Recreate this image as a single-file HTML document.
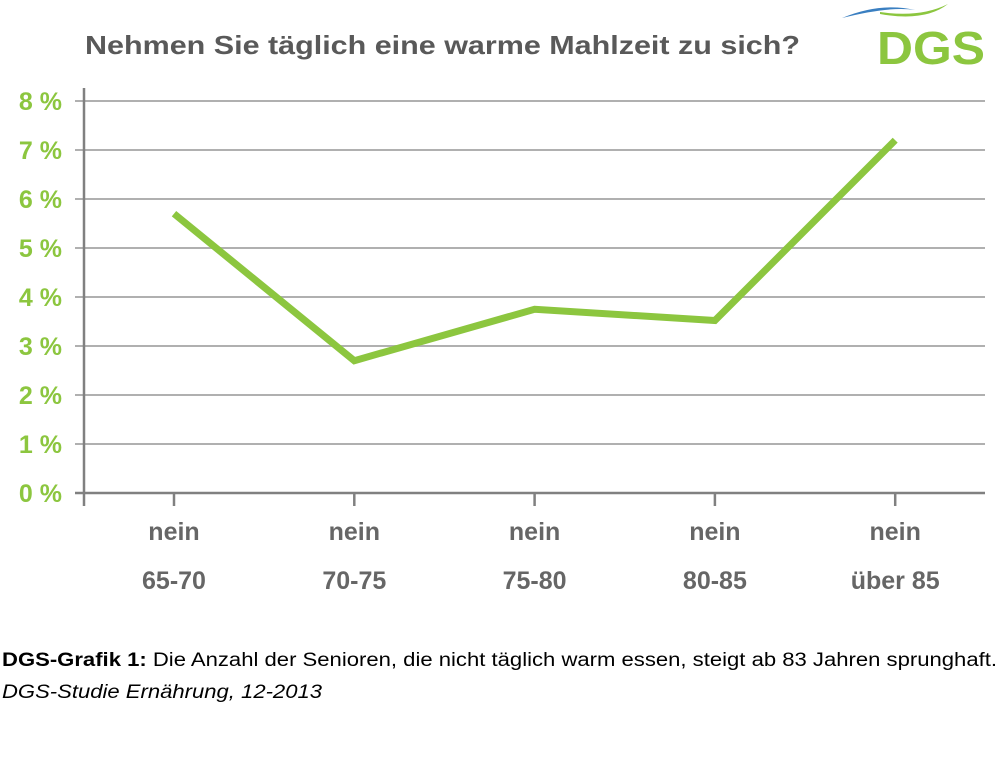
<!DOCTYPE html>
<html><head><meta charset="utf-8"><style>
body{margin:0;background:#fff;width:1000px;height:776px;overflow:hidden}
svg{display:block;font-family:"Liberation Sans",sans-serif}
</style></head><body>
<svg width="1000" height="776">
<text x="85" y="54" font-size="26" font-weight="bold" fill="#595959" textLength="715" lengthAdjust="spacingAndGlyphs">Nehmen Sie täglich eine warme Mahlzeit zu sich?</text>
<g>
<path d="M842 18 Q880 2 915 10 Q890 6 842 18Z" fill="#3a7fc1"/>
<path d="M880 12 Q920 18 948 4 Q925 22 880 14Z" fill="#8cc63f"/>
<text x="877" y="64" font-size="46" font-weight="bold" fill="#8cc63f" textLength="108" lengthAdjust="spacingAndGlyphs">DGS</text>
</g>
<g id="grid"></g><g id="yl"></g><g id="xl"></g>
<line x1="84" y1="88" x2="84" y2="506" stroke="#808080" stroke-width="2.5"/>
<polyline id="ln" fill="none" stroke="#8cc63f" stroke-width="7" stroke-linejoin="miter"/>
<text x="2" y="666" font-size="19" fill="#000" textLength="995" lengthAdjust="spacingAndGlyphs"><tspan font-weight="bold">DGS-Grafik 1:</tspan> Die Anzahl der Senioren, die nicht täglich warm essen, steigt ab 83 Jahren sprunghaft.</text>
<text x="2" y="698" font-size="19" font-style="italic" fill="#000" textLength="320" lengthAdjust="spacingAndGlyphs">DGS-Studie Ernährung, 12-2013</text>
</svg>
<script>
const categories1=["nein","nein","nein","nein","nein"];
const categories2=["65-70","70-75","75-80","80-85","über 85"];
const values=[5.7,2.7,3.75,3.52,7.2];
const yTicks=[0,1,2,3,4,5,6,7,8];
const ns="http://www.w3.org/2000/svg";
const y=v=>493-v*49;
const x=i=>174+i*180.3;
function mk(t,a,p){const e=document.createElementNS(ns,t);for(const k in a)e.setAttribute(k,a[k]);p.appendChild(e);return e;}
const g=document.getElementById('grid'),yl=document.getElementById('yl'),xl=document.getElementById('xl');
yTicks.forEach(v=>{
 const l=mk('line',{x1:75,x2:985,y1:y(v),y2:y(v),stroke:v===0?'#808080':'#b0b0b0','stroke-width':v===0?2.5:2},g);
 
 
 const t=mk('text',{x:62,y:y(v)+9,'text-anchor':'end','font-size':25,'font-weight':'bold',fill:'#8cc63f'},yl);
 t.textContent=v+' %';
 
 
});
categories1.forEach((c,i)=>{
 const tk=mk('line',{x1:x(i),x2:x(i),y1:493,y2:506,stroke:'#808080','stroke-width':2.5},g);
 
 
 const a=mk('text',{x:x(i),y:540,'text-anchor':'middle','font-size':25,'font-weight':'bold',fill:'#666'},xl);
 a.textContent=c;
 
 
 const b=mk('text',{x:x(i),y:589,'text-anchor':'middle','font-size':25,'font-weight':'bold',fill:'#666'},xl);
 b.textContent=categories2[i];
 
 
});
document.getElementById('ln').setAttribute('points',values.map((v,i)=>x(i)+','+y(v)).join(' '));
</script>
</body></html>
